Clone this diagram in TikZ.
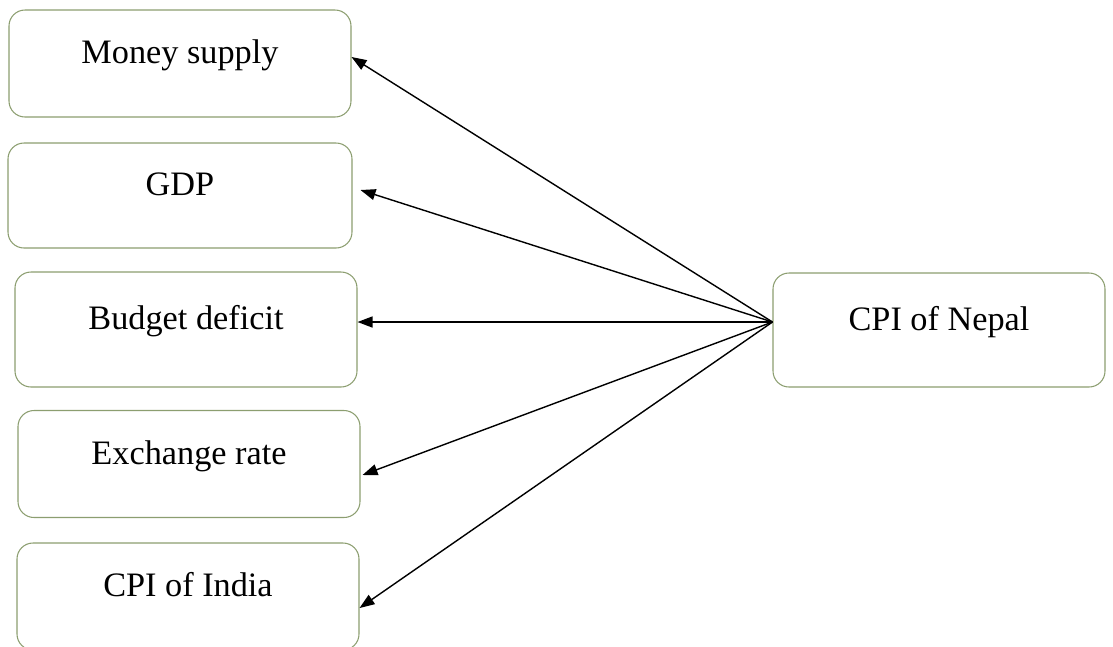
\documentclass[tikz,border=0pt]{standalone}
\usepackage{fontspec}
\setmainfont{Liberation Serif}
\usetikzlibrary{arrows.meta, positioning, calc}

\definecolor{boxline}{RGB}{140,158,112}

\tikzset{
  varbox/.style = {draw=boxline, line width=0.6pt, rounded corners=0.32cm, fill=white,
                   minimum width=6.84cm, minimum height=2.14cm,
                   text height=0.5cm, text depth=0.5cm,
                   font=\fontsize{19.5}{23}\selectfont}
}

\begin{document}
\begin{tikzpicture} [-{Triangle[length=0.3cm, width=0.22cm]}, line width = 0.8pt]

\useasboundingbox (0,0) rectangle (22.26,-12.92);

\node [varbox] (money) at (3.6,-1.27) {Money supply};
\node [varbox, minimum width=6.88cm, minimum height=2.1cm] (gdp) at (3.6,-3.91) {GDP};
\node [varbox, minimum height=2.3cm] (budget) at (3.72,-6.59) {Budget deficit};
\node [varbox] (exch) at (3.78,-9.28) {Exchange rate};
\node [varbox] (india) at (3.76,-11.93) {CPI of India};

\node [varbox, minimum width=6.64cm, minimum height=2.28cm] (nepal) at (18.78,-6.6) {CPI of Nepal};

% all arrows leave the west side of the CPI of Nepal box
\coordinate (hub) at ([yshift=0.16cm]nepal.west);

\path (hub) edge ([yshift=0.13cm]money.east);
\path (hub) edge ([xshift=0.16cm, yshift=0.11cm]gdp.east);
\path (hub) edge ([yshift=0.15cm]budget.east);
\path (hub) edge ([xshift=0.04cm, yshift=-0.22cm]exch.east);
\path (hub) edge ([yshift=-0.23cm]india.east);

\end{tikzpicture}
\end{document}
